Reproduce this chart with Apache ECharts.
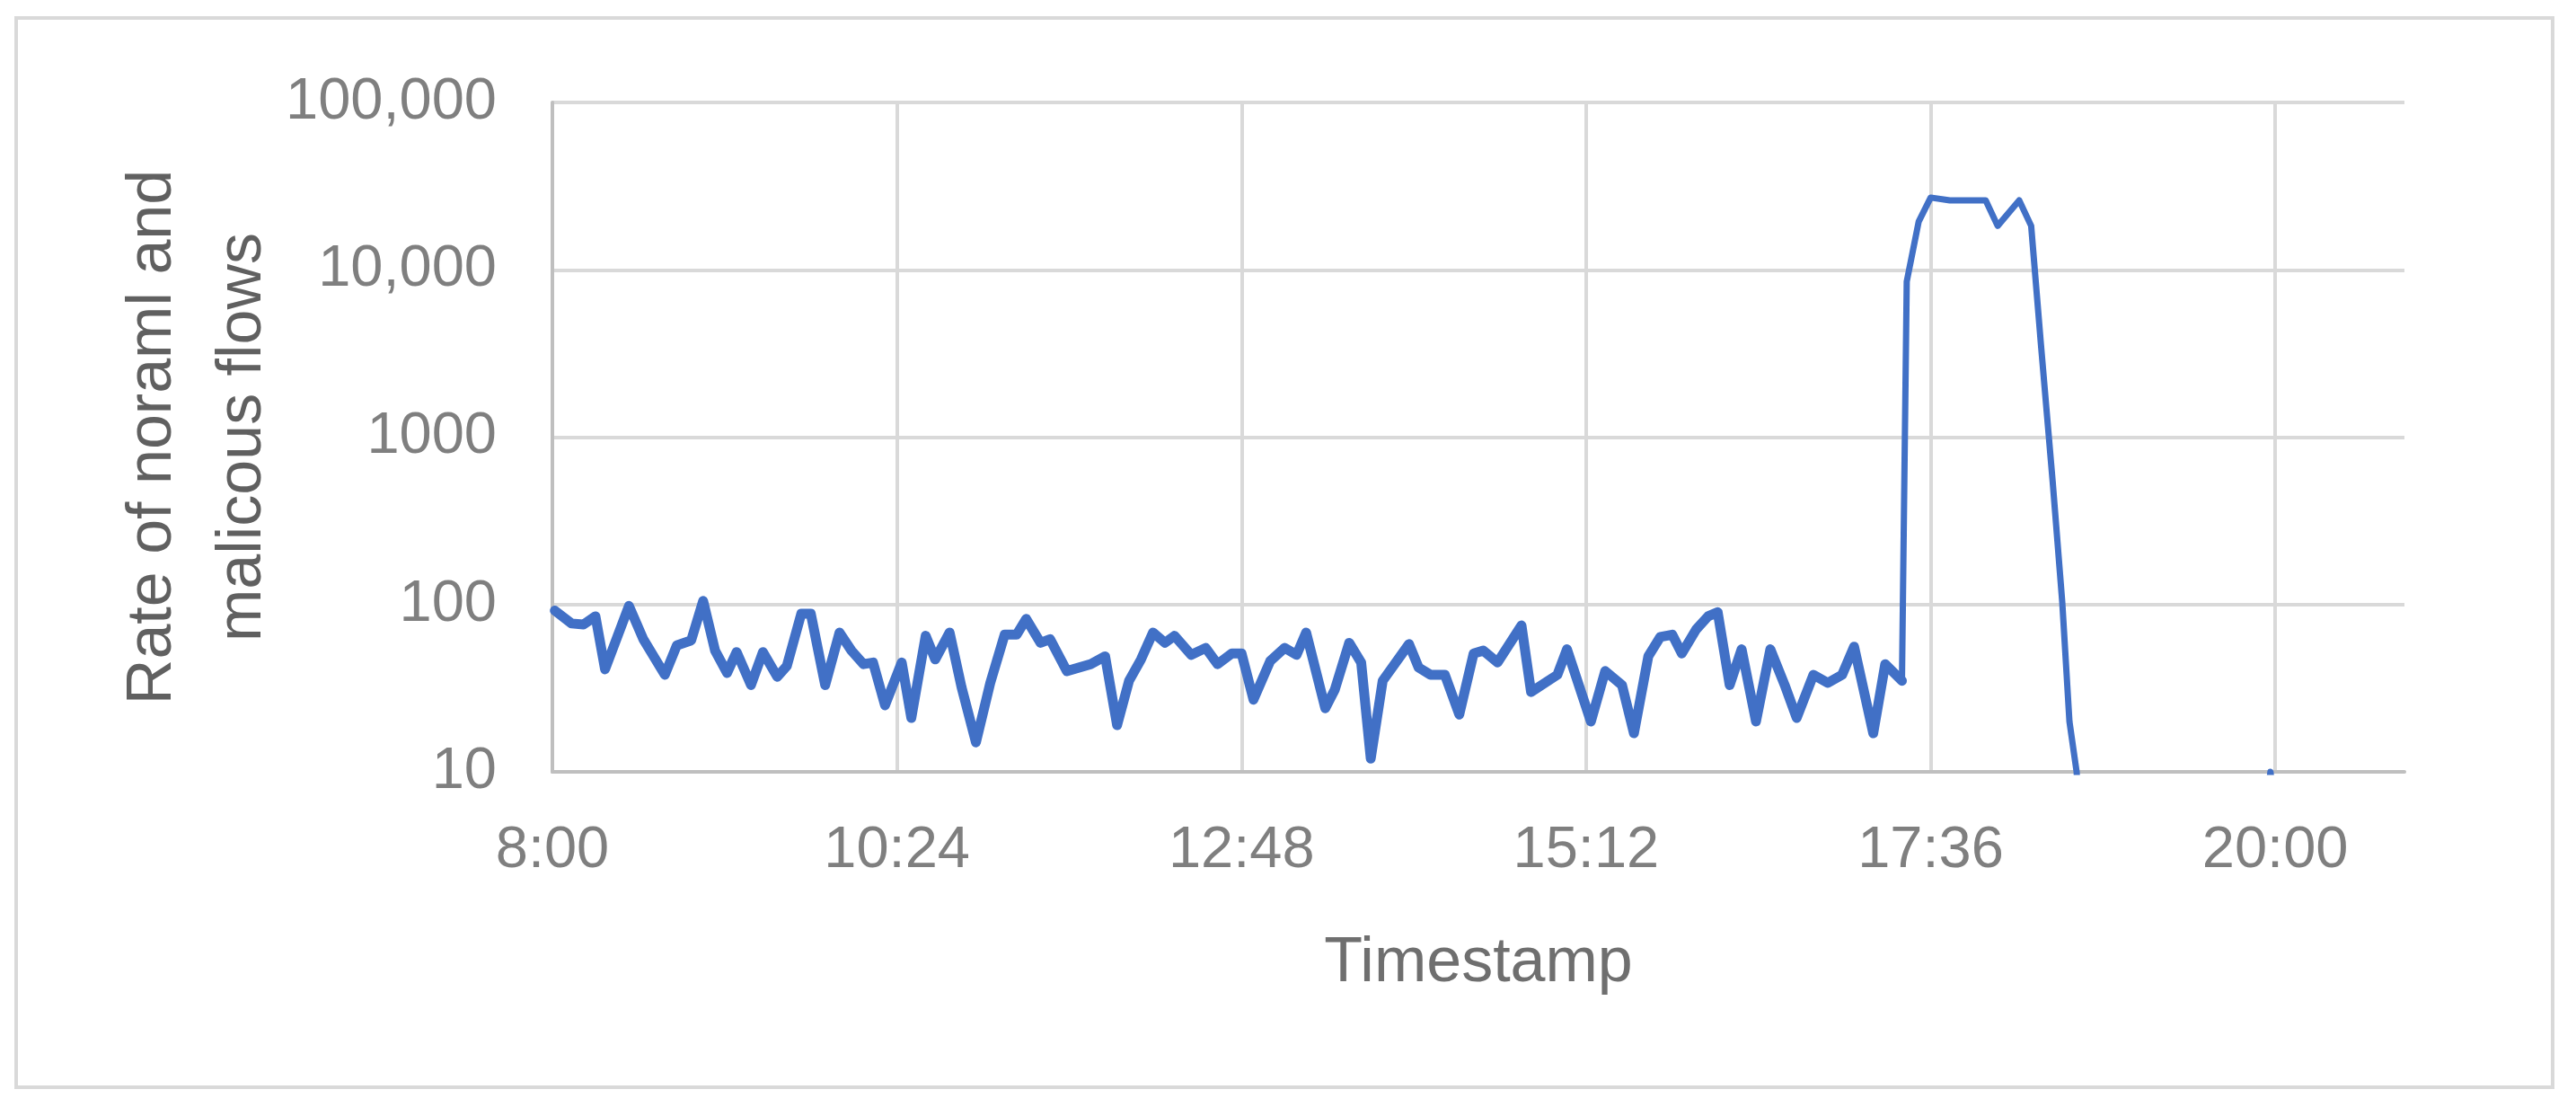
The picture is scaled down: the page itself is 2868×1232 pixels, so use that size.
<!DOCTYPE html>
<html>
<head>
<meta charset="utf-8">
<script src="https://cdn.jsdelivr.net/npm/echarts@6/dist/echarts.min.js"></script>
<style>
html,body{margin:0;padding:0;background:#fff;}
#c{width:2868px;height:1232px;}
</style>
</head>
<body>
<div id="c"></div>
<script>
// Timestamps (clock time) of the plotted points
const times = ['8:01','8:08','8:13','8:18','8:22','8:32','8:38','8:47','8:52','8:58',
'9:03','9:08','9:13','9:17','9:23','9:28','9:34','9:38','9:44','9:48','9:54',
'10:00','10:05','10:10','10:14','10:19','10:26','10:30','10:36','10:40','10:46','10:51','10:57',
'11:03','11:09','11:14','11:18','11:24','11:28','11:35','11:45','11:51','11:56',
'12:01','12:06','12:11','12:16','12:20','12:27','12:33','12:38','12:44','12:48','12:53',
'13:00','13:06','13:11','13:15','13:23','13:27','13:33','13:38','13:42','13:47','13:58',
'14:02','14:07','14:13','14:19','14:25','14:29','14:35','14:45','14:49',
'15:00','15:04','15:14','15:20','15:27','15:32','15:38','15:43','15:48','15:52','15:58',
'16:03','16:07','16:12','16:17','16:23','16:29','16:35','16:40','16:47','16:53','16:59',
'17:04','17:12','17:17','17:24','17:26','17:31','17:36','17:44','17:51','17:59',
'18:04','18:13','18:18','18:22','18:27','18:31','18:34','18:37','18:40',
'19:52','19:58','20:04'];
// Rate of normal and malicious flows at those timestamps
const flows = [92,77,76,85,41,98,62,38,57,61,
105,53,39,52,33,52,37,43,88,88,33,
68,53,44,45,25,45,21,65,47,68,32,15,
34,66,66,82,59,62,40,44,49,19,
35,47,68,59,65,50,55,44,51,51,27,
46,55,50,68,24,31,59,45,12,35,58,
42,38,38,22,51,53,45,75,30,
38,54,20,40,33,17,49,64,66,51,71,
85,90,33,54,20,54,33,21,38,34,38,
56,17,44,35,8500,19400,27000,26000,26000,26000,
18300,26000,18300,3700,540,103,20,10,2,
2,10,2];
const xTickLabels = ['8:00','10:24','12:48','15:12','17:36','20:00'];
const yTickLabels = {10:'10',100:'100',1000:'1000',10000:'10,000',100000:'100,000'};
const xStartMinutes = 8*60;
const xEndMinutes = 20*60 + 54;
const xTickStep = 144;

function toMin(s){const p=s.split(':');return (+p[0])*60+(+p[1]);}
const seriesData = times.map((t,i)=>[toMin(t)-xStartMinutes, flows[i]]);
// the attack burst is drawn with a thinner stroke in the original picture
const burstStart = flows.findIndex(v=>v>1000) - 1;
const baseData = seriesData.slice(0, burstStart+1);
const burstData = seriesData.slice(burstStart);

const chart = echarts.init(document.getElementById('c'), null, {renderer:'canvas'});
const FONT = '"Liberation Sans", Arial, sans-serif';
const LINE = '#4170c6';
chart.setOption({
  backgroundColor:'#ffffff',
  animation:false,
  graphic:[{
    type:'rect', shape:{x:18,y:20,width:2824,height:1190},
    style:{fill:'none',stroke:'#d9d9d9',lineWidth:4}, silent:true, z:-1
  }],
  grid:{left:615,right:191,top:114,bottom:373,containLabel:false},
  xAxis:{
    type:'value', min:0, max:xEndMinutes-xStartMinutes, interval:xTickStep,
    axisLine:{show:true,lineStyle:{color:'#bfbfbf',width:4}},
    axisTick:{show:false},
    splitLine:{show:true,showMaxLine:false,lineStyle:{color:'#d9d9d9',width:4}},
    axisLabel:{
      color:'#7f7f7f', fontFamily:FONT, fontSize:65, margin:56, showMaxLabel:false,
      formatter:function(v){const k=Math.round(v/xTickStep);return Math.abs(v-k*xTickStep)<0.01 && xTickLabels[k]!==undefined ? xTickLabels[k] : '';}
    },
    name:'Timestamp', nameLocation:'middle', nameGap:179, nameMoveOverlap:false,
    nameTextStyle:{color:'#6f6f6f',fontFamily:FONT,fontSize:70}
  },
  yAxis:{
    type:'log', logBase:10, min:10, max:100000,
    axisLine:{show:true,lineStyle:{color:'#bfbfbf',width:4}},
    axisTick:{show:false},
    splitLine:{show:true,lineStyle:{color:'#d9d9d9',width:4}},
    axisLabel:{
      color:'#7f7f7f', fontFamily:FONT, fontSize:65, margin:62,
      formatter:function(v){return yTickLabels[Math.round(v)]||'';}
    },
    name:'Rate of noraml and\nmalicous flows', nameLocation:'middle', nameGap:294, nameRotate:90, nameMoveOverlap:false,
    nameTextStyle:{color:'#606060',fontFamily:FONT,fontSize:70,lineHeight:100,align:'center'}
  },
  series:[{
    type:'line', data:baseData, showSymbol:false, symbol:'none', clip:true,
    lineStyle:{color:LINE,width:11,cap:'round',join:'round'}
  },{
    type:'line', data:burstData, showSymbol:false, symbol:'none', clip:true,
    lineStyle:{color:LINE,width:7,cap:'round',join:'round'}
  }]
});
</script>
</body>
</html>
